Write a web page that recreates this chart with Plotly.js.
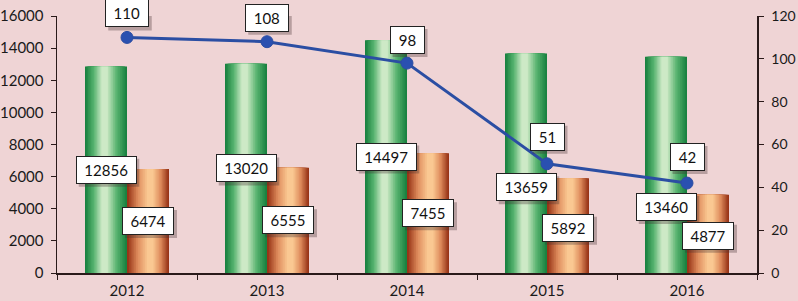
<!DOCTYPE html>
<html>
<head>
<meta charset="utf-8">
<script src="https://cdn.plot.ly/plotly-3.0.1.min.js"></script>
<style>
html,body{margin:0;padding:0;background:#efd4d5;}
#chart{width:798px;height:301px;}
</style>
</head>
<body>
<div id="chart"></div>
<script>
// ---- data ----
const years = ['2012', '2013', '2014', '2015', '2016'];
const greenValues = [12856, 13020, 14497, 13659, 13460];
const orangeValues = [6474, 6555, 7455, 5892, 4877];
const lineValues = [110, 108, 98, 51, 42];
const leftTicks = [0, 2000, 4000, 6000, 8000, 10000, 12000, 14000, 16000];
const rightTicks = [0, 20, 40, 60, 80, 100, 120];

// ---- label nudges (pixels, style only) ----
const greenLabelNudge = [0, 0, 0, -24, -42];
const orangeLabelNudge = [0, 0, 0, -2, -2];
const lineLabelNudge = [24, 24, 23, 27, 26];

const FONT = 'Lato, "Open Sans", "Liberation Sans", sans-serif';
const BG = '#efd4d5';
const BAR_W = 0.3;

function hex2rgb(h){h=h.replace('#','');return [0,2,4].map(i=>parseInt(h.substr(i,2),16));}
function mix(a,b,t){const A=hex2rgb(a),B=hex2rgb(b);return 'rgb('+A.map((v,i)=>Math.round(v+(B[i]-v)*t)).join(',')+')';}

function cylinderTraces(values, baseOffset, edge, mid, center, c, name){
  const n = 12, traces = [];
  for (let i = 0; i < n; i++){
    const f = 1 - (i / n) * 0.92;
    const t = i / (n - 1);
    const col = t < 0.5 ? mix(edge, mid, t * 2) : mix(mid, center, (t - 0.5) * 2);
    const left = c * (1 - f);
    traces.push({
      type: 'bar', x: years, y: values, name: name,
      width: BAR_W * f, offset: baseOffset + BAR_W * left,
      marker: {color: col, line: {width: 0}},
      hoverinfo: 'skip', showlegend: false
    });
  }
  return traces;
}

const traces = [].concat(
  cylinderTraces(greenValues, -BAR_W, '#1a8240', '#58b470', '#cde9c6', 0.46, 'green'),
  cylinderTraces(orangeValues, 0, '#983417', '#de8c5c', '#fac892', 0.56, 'orange'),
  [{
    type: 'scatter', mode: 'lines+markers', x: years, y: lineValues, yaxis: 'y2',
    line: {color: '#2b4ea3', width: 3},
    marker: {color: '#2a50b0', size: 12, line: {color: '#2b4ea3', width: 1}},
    hoverinfo: 'skip', showlegend: false
  }]
);

function boxW(v){return String(v).length * 8.5 + 12;}
const BOX_H = 22, PAD = 2, BW = 1;
const annotations = [];
const shapes = [];
function addLabel(xi, y, yref, text, xshift, yshift){
  const w = boxW(text) + 2 * PAD + 2 * BW;
  const h = BOX_H + 2 * PAD + 2 * BW;
  // drop shadow
  shapes.push({type: 'rect', layer: 'above', xref: 'x', yref: yref,
    xsizemode: 'pixel', ysizemode: 'pixel', xanchor: xi, yanchor: y,
    x0: xshift + 3 - w / 2, x1: xshift + 3 + w / 2,
    y0: yshift - 3 - h / 2, y1: yshift - 3 + h / 2,
    fillcolor: 'rgba(70,50,50,0.33)', line: {width: 0}});
  annotations.push({x: xi, y: y, xref: 'x', yref: yref, text: text, showarrow: false,
    xshift: xshift, yshift: yshift, width: boxW(text), height: BOX_H,
    font: {family: FONT, size: 15, color: '#111'},
    bgcolor: '#ffffff', borderpad: PAD, borderwidth: BW, bordercolor: '#222'});
}
years.forEach((yr, i) => {
  addLabel(i, greenValues[i] / 2, 'y', String(greenValues[i]), -21, greenLabelNudge[i]);
  addLabel(i, orangeValues[i] / 2, 'y', String(orangeValues[i]), 21, orangeLabelNudge[i]);
  addLabel(i, lineValues[i], 'y2', String(lineValues[i]), 0, lineLabelNudge[i]);
});

const axisColor = '#2a1a1a';
const layout = {
  width: 798, height: 301,
  margin: {l: 57, r: 41, t: 16, b: 28, pad: 0},
  paper_bgcolor: BG, plot_bgcolor: BG,
  barmode: 'overlay',
  font: {family: FONT, size: 15, color: '#1a1a1a'},
  showlegend: false,
  xaxis: {
    type: 'category', categoryorder: 'array', categoryarray: years,
    range: [-0.5, 4.5], tickson: 'boundaries', ticks: 'outside', ticklen: 5,
    tickcolor: axisColor, showline: true, linecolor: axisColor, linewidth: 1.5,
    showgrid: false, zeroline: false, ticklabelstandoff: 3,
    tickfont: {family: FONT, size: 15, color: '#1a1a1a'},
    fixedrange: true
  },
  xaxis2: {
    overlaying: 'x', anchor: 'y', range: [-0.5, 4.5],
    tickvals: [-0.5, 0.5, 1.5, 2.5, 3.5, 4.5], ticks: 'inside', ticklen: 5,
    tickcolor: axisColor, showticklabels: false, showline: false, showgrid: false, zeroline: false
  },
  yaxis: {
    range: [0, 16000], tickvals: leftTicks, ticktext: leftTicks.map(String),
    ticks: 'outside', ticklen: 5, tickcolor: axisColor, showline: true,
    linecolor: axisColor, linewidth: 1.5, showgrid: false, zeroline: false,
    ticklabelstandoff: 4, tickfont: {family: FONT, size: 15, color: '#1a1a1a'}
  },
  yaxis3: {
    overlaying: 'y', anchor: 'x', side: 'left', range: [0, 16000], tickvals: leftTicks,
    ticks: 'inside', ticklen: 5, tickcolor: axisColor, showticklabels: false,
    showline: false, showgrid: false, zeroline: false
  },
  yaxis2: {
    overlaying: 'y', side: 'right', anchor: 'x', range: [0, 120], tickvals: rightTicks,
    ticktext: rightTicks.map(String),
    ticks: 'outside', ticklen: 5, tickcolor: axisColor, showline: true,
    linecolor: axisColor, linewidth: 1.5, showgrid: false, zeroline: false,
    ticklabelstandoff: 5, tickfont: {family: FONT, size: 14, color: '#1a1a1a'}
  },
  yaxis4: {
    overlaying: 'y', side: 'right', anchor: 'x', range: [0, 120], tickvals: rightTicks,
    ticks: 'inside', ticklen: 5, tickcolor: axisColor, showticklabels: false,
    showline: false, showgrid: false, zeroline: false
  },
  shapes: shapes,
  annotations: annotations
};

Plotly.newPlot('chart', traces, layout, {staticPlot: true, displayModeBar: false});
</script>
</body>
</html>
